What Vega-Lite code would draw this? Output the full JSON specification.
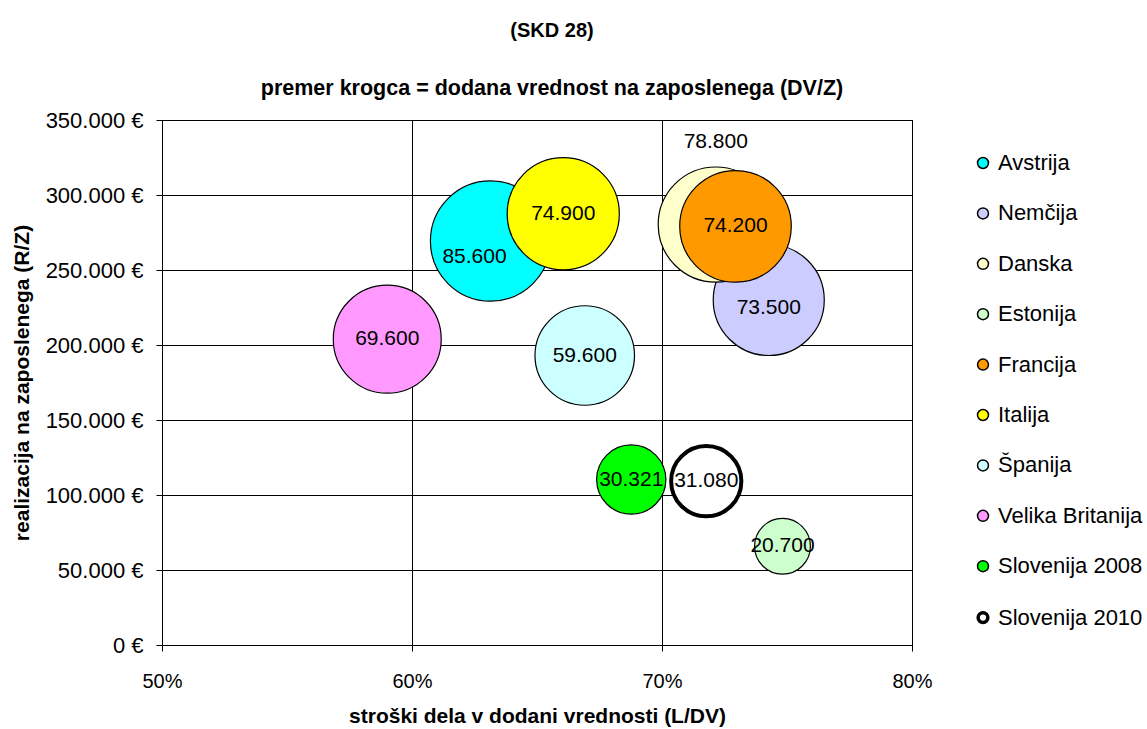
{
  "$schema": "https://vega.github.io/schema/vega-lite/v6.json",
  "autosize": "none",
  "width": 750,
  "height": 525,
  "padding": {"left": 162, "top": 120, "right": 235, "bottom": 84},
  "background": "white",
  "title": {
    "text": "(SKD 28)",
    "subtitle": "premer krogca = dodana vrednost na zaposlenega (DV/Z)",
    "anchor": "middle",
    "frame": "group",
    "dx": 15,
    "offset": 10,
    "font": "Liberation Sans",
    "fontSize": 20,
    "fontWeight": "bold",
    "color": "black",
    "subtitleFont": "Liberation Sans",
    "subtitleFontSize": 21.5,
    "subtitleFontWeight": "bold",
    "subtitleColor": "black",
    "subtitlePadding": 37
  },
  "config": {
    "locale": {
      "number": {"decimal": ",", "thousands": ".", "grouping": [3], "currency": ["", " €"]}
    },
    "font": "Liberation Sans",
    "view": {"stroke": "black", "strokeWidth": 1},
    "axis": {
      "grid": true,
      "gridColor": "black",
      "gridOpacity": 1,
      "gridWidth": 1,
      "domainColor": "black",
      "tickColor": "black",
      "tickSize": 6,
      "labelFlush": false,
      "labelFont": "Liberation Sans",
      "labelFontSize": 22,
      "labelColor": "black",
      "titleFont": "Liberation Sans",
      "titleFontSize": 21,
      "titleFontWeight": "bold",
      "titleColor": "black"
    }
  },
  "data": {
    "values": [
      {"name": "Avstrija", "ldv": 0.6314, "rz": 269300, "dvz": 85600, "o": 1},
      {"name": "Nemčija", "ldv": 0.7427, "rz": 230000, "dvz": 73500, "o": 2},
      {"name": "Danska", "ldv": 0.7215, "rz": 280300, "dvz": 78800, "o": 3},
      {"name": "Estonija", "ldv": 0.7482, "rz": 65800, "dvz": 20700, "o": 4},
      {"name": "Francija", "ldv": 0.7294, "rz": 279100, "dvz": 74200, "o": 5},
      {"name": "Italija", "ldv": 0.6605, "rz": 287500, "dvz": 74900, "o": 6},
      {"name": "Španija", "ldv": 0.6691, "rz": 193000, "dvz": 59600, "o": 7},
      {"name": "Velika Britanija", "ldv": 0.5901, "rz": 203900, "dvz": 69600, "o": 8},
      {"name": "Slovenija 2008", "ldv": 0.6877, "rz": 110300, "dvz": 30321, "o": 9},
      {"name": "Slovenija 2010", "ldv": 0.7177, "rz": 109200, "dvz": 31080, "o": 10}
    ]
  },
  "encoding": {
    "x": {
      "field": "ldv",
      "type": "quantitative",
      "scale": {"domain": [0.5, 0.8], "nice": false, "zero": false},
      "axis": {
        "title": "stroški dela v dodani vrednosti (L/DV)",
        "format": ".0%",
        "values": [0.5, 0.6, 0.7, 0.8],
        "labelFontSize": 20,
        "labelPadding": 20,
        "titlePadding": 14
      }
    },
    "y": {
      "field": "rz",
      "type": "quantitative",
      "scale": {"domain": [0, 350000], "nice": false},
      "axis": {
        "title": "realizacija na zaposlenega (R/Z)",
        "format": "$,.0f",
        "values": [0, 50000, 100000, 150000, 200000, 250000, 300000, 350000],
        "labelPadding": 13,
        "titlePadding": 13
      }
    }
  },
  "layer": [
    {
      "mark": {"type": "point", "shape": "circle", "filled": true, "stroke": "black", "opacity": 1, "strokeOpacity": 1},
      "encoding": {
        "size": {
          "field": "dvz",
          "type": "quantitative",
          "scale": {"type": "linear", "zero": false, "domain": [20700, 85600], "range": [3117, 14441]},
          "legend": null
        },
        "color": {
          "field": "name",
          "type": "nominal",
          "scale": {
            "domain": ["Avstrija", "Nemčija", "Danska", "Estonija", "Francija", "Italija", "Španija", "Velika Britanija", "Slovenija 2008", "Slovenija 2010"],
            "range": ["#00FFFF", "#CCCCFF", "#FFFFCC", "#CCFFCC", "#FF9900", "#FFFF00", "#CCFFFF", "#FF99FF", "#00FF00", "#FFFFFF"]
          },
          "legend": {
            "title": null,
            "orient": "none",
            "legendX": 810,
            "legendY": 32,
            "labelFont": "Liberation Sans",
            "labelFontSize": 22,
            "labelColor": "black",
            "labelOffset": 4,
            "labelLimit": 300,
            "symbolType": "circle",
            "symbolSize": 120,
            "symbolStrokeColor": "black",
            "symbolStrokeWidth": 1.5,
            "symbolOpacity": 1,
            "rowPadding": 28.4,
            "padding": 0,
            "encode": {
              "symbols": {
                "update": {
                  "strokeWidth": {"signal": "datum.value === 'Slovenija 2010' ? 3.5 : 1.5"},
                  "size": {"signal": "datum.value === 'Slovenija 2010' ? 95 : 120"},
                  "stroke": {"value": "black"}
                }
              }
            }
          }
        },
        "order": {"field": "o", "type": "quantitative"},
        "strokeWidth": {
          "condition": {"test": "datum.name === 'Slovenija 2010'", "value": 4},
          "value": 1.2
        }
      }
    },
    {
      "transform": [{"filter": "datum.name !== 'Avstrija' && datum.name !== 'Danska' && datum.name !== 'Nemčija'"}],
      "mark": {"type": "text", "font": "Liberation Sans", "fontSize": 21, "color": "black", "align": "center", "baseline": "middle"},
      "encoding": {"text": {"field": "dvz", "type": "quantitative", "format": ",.0f"}}
    },
    {
      "transform": [{"filter": "datum.name === 'Avstrija'"}],
      "mark": {"type": "text", "font": "Liberation Sans", "fontSize": 21, "color": "black", "align": "center", "baseline": "middle", "dx": -16, "dy": 16},
      "encoding": {"text": {"field": "dvz", "type": "quantitative", "format": ",.0f"}}
    },
    {
      "transform": [{"filter": "datum.name === 'Danska'"}],
      "mark": {"type": "text", "font": "Liberation Sans", "fontSize": 21, "color": "black", "align": "center", "baseline": "middle", "dy": -83},
      "encoding": {"text": {"field": "dvz", "type": "quantitative", "format": ",.0f"}}
    },
    {
      "transform": [{"filter": "datum.name === 'Nemčija'"}],
      "mark": {"type": "text", "font": "Liberation Sans", "fontSize": 21, "color": "black", "align": "center", "baseline": "middle", "dy": 8},
      "encoding": {"text": {"field": "dvz", "type": "quantitative", "format": ",.0f"}}
    }
  ]
}
